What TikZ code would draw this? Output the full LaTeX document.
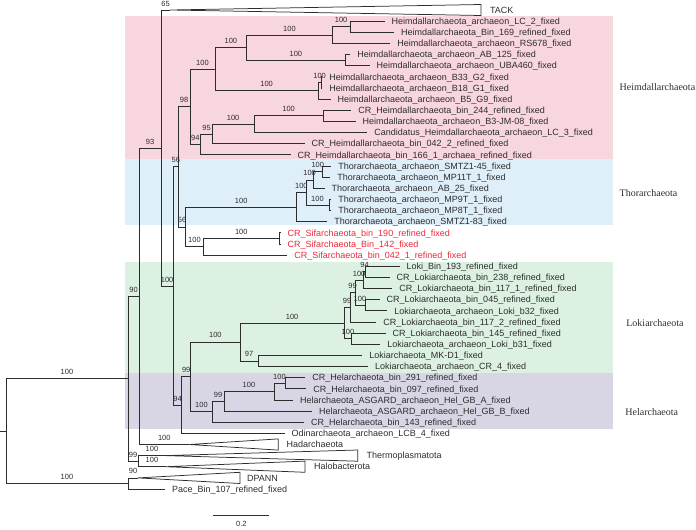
\documentclass[tikz,border=0pt]{standalone}
\usepackage{fontspec}
\setmainfont{Liberation Serif}
\setsansfont{Liberation Sans}
\definecolor{inkgray}{RGB}{45,45,45}
\definecolor{heimpink}{RGB}{248,214,221}
\definecolor{thorblue}{RGB}{223,239,250}
\definecolor{lokigreen}{RGB}{220,241,225}
\definecolor{helgray}{RGB}{216,214,228}
\definecolor{sifred}{RGB}{236,40,55}
\begin{document}
\begin{tikzpicture}[x=1pt,y=-1pt,line width=0.75pt,color=inkgray,
  leaf/.style={anchor=west,inner xsep=7pt,inner ysep=0pt,outer sep=0pt,text height=6.4pt,text depth=0pt,font=\sffamily\fontsize{9}{9}\selectfont},
  sifleaf/.style={leaf,text=sifred},
  bs/.style={pos=0.75,above=3pt,inner sep=0.5pt,font=\sffamily\fontsize{7.5}{7.5}\selectfont},
  clade/.style={anchor=west,inner sep=0pt,font=\rmfamily\fontsize{10}{10}\selectfont}]
\useasboundingbox (0,0) rectangle (696,530);

\fill[heimpink] (125,15.7) rectangle (612.7,159.3);
\fill[thorblue] (125,159.3) rectangle (612.7,224.5);
\fill[lokigreen] (125,261.7) rectangle (612.7,372.7);
\fill[helgray] (125,372.7) rectangle (612.7,429.3);

\coordinate (rootin) at (0,431.1);
\coordinate (root) at (6,431.1);
\coordinate (n90) at (128,378.7);
\coordinate (ndp) at (128,483.45);
\coordinate (n139) at (139.3,296.2);
\coordinate (n99o) at (138,461.15);
\coordinate (n93) at (161,148);
\coordinate (n100a) at (173.3,286);
\coordinate (n56) at (178.3,166.85);
\coordinate (n94) at (181.7,405.05);
\coordinate (n98) at (190,106.8);
\coordinate (n56b) at (185.7,226.9);
\coordinate (nb) at (215,69.2);
\coordinate (nc) at (246.7,47.6);
\coordinate (nd) at (332.3,35.05);
\coordinate (ne) at (350,26.7);
\coordinate (nab) at (345,60.15);
\coordinate (nb5) at (318.3,90.75);
\coordinate (nb33) at (321,82.4);
\coordinate (n94h) at (200.7,144.4);
\coordinate (n95) at (212.3,133.95);
\coordinate (nf) at (254,124.2);
\coordinate (ng) at (323.3,115.85);
\coordinate (nthor) at (296.7,207.05);
\coordinate (nt306) at (306,192.4);
\coordinate (nt25) at (313.3,179.9);
\coordinate (nt45) at (322.3,171.55);
\coordinate (nt9) at (329,204.95);
\coordinate (nsif) at (203.3,246.7);
\coordinate (ns190) at (279.3,238.35);
\coordinate (n99l) at (190.7,376.8);
\coordinate (nloki) at (240,341.9);
\coordinate (nl2) at (344.3,322.95);
\coordinate (n99a) at (350,307.3);
\coordinate (n99b) at (355,292.7);
\coordinate (np) at (363.3,280.15);
\coordinate (nq) at (365.7,271.8);
\coordinate (ns) at (365,305.2);
\coordinate (nlc) at (351.7,338.65);
\coordinate (n97) at (258.3,360.9);
\coordinate (nhel) at (212.3,411.75);
\coordinate (nh224) at (224,401.3);
\coordinate (nh274) at (274,391.55);
\coordinate (nh291) at (285,383.2);

\coordinate (tack) at (170,10);
\coordinate (hadar) at (189.3,444.5);
\coordinate (thermo) at (166,455.6);
\coordinate (halo) at (166,466.7);
\coordinate (dpann) at (138,477.9);

\draw (tack) -- (481,4.5) -- (481,15.5) -- cycle;
\draw (hadar) -- (278.3,438.9) -- (278.3,450.1) -- cycle;
\draw (thermo) -- (357.7,450) -- (357.7,461.2) -- cycle;
\draw (halo) -- (305,461.1) -- (305,472.3) -- cycle;
\draw (dpann) -- (240,472.3) -- (240,483.5) -- cycle;

\node[leaf] (ltack) at (483,10) {TACK};
\node[leaf] (lhadar) at (279.7,444.5) {Hadarchaeota};
\node[leaf] (lthermo) at (359.7,455.6) {Thermoplasmatota};
\node[leaf] (lhalo) at (307,466.7) {Halobacterota};
\node[leaf] (ldpann) at (240,477.9) {DPANN};
\node[leaf] (lpace) at (165,489) {Pace\_Bin\_107\_refined\_fixed};

\node[leaf] (lc2) at (384.7,21.1) {Heimdallarchaeota\_archaeon\_LC\_2\_fixed};
\node[leaf] (b169) at (394,32.3) {Heimdallarchaeota\_Bin\_169\_refined\_fixed};
\node[leaf] (rs678) at (390.3,43.4) {Heimdallarchaeota\_archaeon\_RS678\_fixed};
\node[leaf] (ab125) at (350.3,54.6) {Heimdallarchaeota\_archaeon\_AB\_125\_fixed};
\node[leaf] (uba460) at (369.7,65.7) {Heimdallarchaeota\_archaeon\_UBA460\_fixed};
\node[leaf] (b33g2) at (322.3,76.8) {Heimdallarchaeota\_archaeon\_B33\_G2\_fixed};
\node[leaf] (b18g1) at (322.3,88) {Heimdallarchaeota\_archaeon\_B18\_G1\_fixed};
\node[leaf] (b5g9) at (330.7,99.1) {Heimdallarchaeota\_archaeon\_B5\_G9\_fixed};
\node[leaf] (h244) at (351.3,110.3) {CR\_Heimdallarchaeota\_bin\_244\_refined\_fixed};
\node[leaf] (b3jm) at (355.7,121.4) {Heimdallarchaeota\_archaeon\_B3-JM-08\_fixed};
\node[leaf] (lc3) at (367.3,132.5) {Candidatus\_Heimdallarchaeota\_archaeon\_LC\_3\_fixed};
\node[leaf] (h0422) at (304.7,143.7) {CR\_Heimdallarchaeota\_bin\_042\_2\_refined\_fixed};
\node[leaf] (h1661) at (290.7,154.8) {CR\_Heimdallarchaeota\_bin\_166\_1\_archaea\_refined\_fixed};

\node[leaf] (smtz45) at (331.3,166) {Thorarchaeota\_archaeon\_SMTZ1-45\_fixed};
\node[leaf] (mp11t) at (330.3,177.1) {Thorarchaeota\_archaeon\_MP11T\_1\_fixed};
\node[leaf] (ab25) at (324.7,188.2) {Thorarchaeota\_archaeon\_AB\_25\_fixed};
\node[leaf] (mp9t) at (331.3,199.4) {Thorarchaeota\_archaeon\_MP9T\_1\_fixed};
\node[leaf] (mp8t) at (331.3,210.5) {Thorarchaeota\_archaeon\_MP8T\_1\_fixed};
\node[leaf] (smtz83) at (327.3,221.7) {Thorarchaeota\_archaeon\_SMTZ1-83\_fixed};

\node[sifleaf] (s190) at (280.7,232.8) {CR\_Sifarchaeota\_bin\_190\_refined\_fixed};
\node[sifleaf] (s142) at (280.7,243.9) {CR\_Sifarchaeota\_Bin\_142\_fixed};
\node[sifleaf] (s0421) at (287.3,255.1) {CR\_Sifarchaeota\_bin\_042\_1\_refined\_fixed};

\node[leaf] (lb193) at (399.7,266.2) {Loki\_Bin\_193\_refined\_fixed};
\node[leaf] (l238) at (389.7,277.4) {CR\_Lokiarchaeota\_bin\_238\_refined\_fixed};
\node[leaf] (l1171) at (392.3,288.5) {CR\_Lokiarchaeota\_bin\_117\_1\_refined\_fixed};
\node[leaf] (l045) at (379.7,299.6) {CR\_Lokiarchaeota\_bin\_045\_refined\_fixed};
\node[leaf] (lb32) at (387.3,310.8) {Lokiarchaeota\_archaeon\_Loki\_b32\_fixed};
\node[leaf] (l1172) at (376.3,321.9) {CR\_Lokiarchaeota\_bin\_117\_2\_refined\_fixed};
\node[leaf] (l145) at (385.7,333.1) {CR\_Lokiarchaeota\_bin\_145\_refined\_fixed};
\node[leaf] (lb31) at (380.3,344.2) {Lokiarchaeota\_archaeon\_Loki\_b31\_fixed};
\node[leaf] (mkd1) at (362.3,355.3) {Lokiarchaeota\_MK-D1\_fixed};
\node[leaf] (lcr4) at (368,366.5) {Lokiarchaeota\_archaeon\_CR\_4\_fixed};

\node[leaf] (e291) at (305.3,377.6) {CR\_Helarchaeota\_bin\_291\_refined\_fixed};
\node[leaf] (e097) at (306.3,388.8) {CR\_Helarchaeota\_bin\_097\_refined\_fixed};
\node[leaf] (gba) at (293,399.9) {Helarchaeota\_ASGARD\_archaeon\_Hel\_GB\_A\_fixed};
\node[leaf] (gbb) at (312,411) {Helarchaeota\_ASGARD\_archaeon\_Hel\_GB\_B\_fixed};
\node[leaf] (e143) at (304,422.2) {CR\_Helarchaeota\_bin\_143\_refined\_fixed};
\node[leaf] (odin) at (284.7,433.3) {Odinarchaeota\_archaeon\_LCB\_4\_fixed};

\draw (rootin) -- (root);
\draw (root) |- (n90) node[bs] {100};
\draw (root) |- (ndp) node[bs] {100};
\draw (n90) |- (n139) node[bs] {90};
\draw (n90) |- (n99o) node[bs] {99};
\draw (n139) |- (n93) node[bs] {93};
\draw (n139) |- (hadar) node[bs] {100};
\draw (n99o) |- (thermo) node[bs] {100};
\draw (n99o) |- (halo) node[bs] {100};
\draw (ndp) |- (dpann) node[bs] {90};
\draw (ndp) |- (lpace.west);
\draw (n93) |- (tack) node[bs] {65};
\draw (n93) |- (n100a) node[bs] {100};
\draw (n100a) |- (n56) node[bs] {56};
\draw (n100a) |- (n94) node[bs] {94};
\draw (n56) |- (n98) node[bs] {98};
\draw (n56) |- (n56b) node[bs] {56};

\draw (n98) |- (nb) node[bs] {100};
\draw (n98) |- (n94h) node[bs] {94};
\draw (nb) |- (nc) node[bs] {100};
\draw (nb) |- (nb5) node[bs] {100};
\draw (nc) |- (nd) node[bs] {100};
\draw (nc) |- (nab) node[bs] {100};
\draw (nd) |- (ne) node[bs] {100};
\draw (nd) |- (rs678.west);
\draw (ne) |- (lc2.west);
\draw (ne) |- (b169.west);
\draw (nab) |- (ab125.west);
\draw (nab) |- (uba460.west);
\draw (nb5) |- (nb33) node[bs] {100};
\draw (nb5) |- (b5g9.west);
\draw (nb33) |- (b33g2.west);
\draw (nb33) |- (b18g1.west);
\draw (n94h) |- (n95) node[bs] {95};
\draw (n94h) |- (h1661.west);
\draw (n95) |- (nf) node[bs] {100};
\draw (n95) |- (h0422.west);
\draw (nf) |- (ng) node[bs] {100};
\draw (nf) |- (lc3.west);
\draw (ng) |- (h244.west);
\draw (ng) |- (b3jm.west);

\draw (n56b) |- (nthor) node[bs] {100};
\draw (n56b) |- (nsif) node[bs] {100};
\draw (nthor) |- (nt306) node[bs] {100};
\draw (nthor) |- (smtz83.west);
\draw (nt306) |- (nt25) node[bs] {100};
\draw (nt306) |- (nt9) node[bs] {100};
\draw (nt25) |- (nt45) node[bs] {100};
\draw (nt25) |- (ab25.west);
\draw (nt45) |- (smtz45.west);
\draw (nt45) |- (mp11t.west);
\draw (nt9) |- (mp9t.west);
\draw (nt9) |- (mp8t.west);
\draw (nsif) |- (ns190) node[bs] {100};
\draw (nsif) |- (s0421.west);
\draw (ns190) |- (s190.west);
\draw (ns190) |- (s142.west);

\draw (n94) |- (n99l) node[bs] {99};
\draw (n94) |- (odin.west);
\draw (n99l) |- (nloki) node[bs] {100};
\draw (n99l) |- (nhel) node[bs] {100};
\draw (nloki) |- (nl2) node[bs] {100};
\draw (nloki) |- (n97) node[bs] {97};
\draw (n97) |- (mkd1.west);
\draw (n97) |- (lcr4.west);
\draw (nl2) |- (n99a) node[bs] {99};
\draw (nl2) |- (nlc) node[bs] {100};
\draw (nlc) |- (l145.west);
\draw (nlc) |- (lb31.west);
\draw (n99a) |- (n99b) node[bs] {99};
\draw (n99a) |- (l1172.west);
\draw (n99b) |- (np) node[bs] {100};
\draw (n99b) |- (ns) node[bs] {100};
\draw (np) |- (nq) node[bs] {94};
\draw (np) |- (l1171.west);
\draw (nq) |- (lb193.west);
\draw (nq) |- (l238.west);
\draw (ns) |- (l045.west);
\draw (ns) |- (lb32.west);

\draw (nhel) |- (nh224) node[bs] {99};
\draw (nhel) |- (e143.west);
\draw (nh224) |- (nh274) node[bs] {100};
\draw (nh224) |- (gbb.west);
\draw (nh274) |- (nh291) node[bs] {100};
\draw (nh274) |- (gba.west);
\draw (nh291) |- (e291.west);
\draw (nh291) |- (e097.west);

\node[clade] (cheim) at (619.3,87.3) {Heimdallarchaeota};
\node[clade] (cthor) at (619.3,193.3) {Thorarchaeota};
\node[clade] (cloki) at (626,323.3) {Lokiarchaeota};
\node[clade] (chel) at (625,411.7) {Helarchaeota};

\coordinate (sbl) at (213.3,515.5);
\coordinate (sbr) at (269.3,515.5);
\draw (sbl) -- (sbr) node[midway,below=4.5pt,inner sep=0.5pt,font=\sffamily\fontsize{7.5}{7.5}\selectfont] (sblab) {0.2};
\end{tikzpicture}
\end{document}
